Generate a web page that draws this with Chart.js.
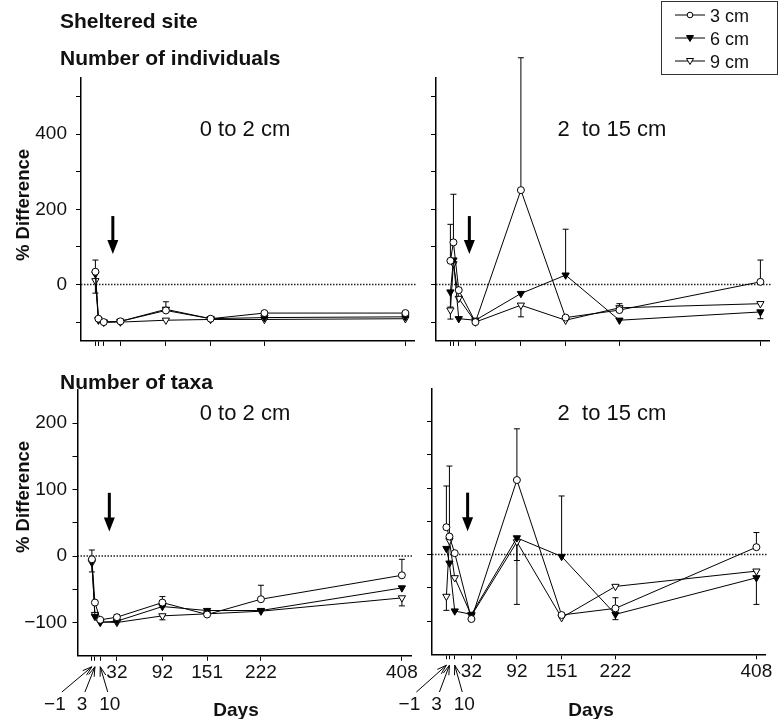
<!DOCTYPE html>
<html>
<head>
<meta charset="utf-8">
<script src="https://cdn.jsdelivr.net/npm/chart.js@4.4.1/dist/chart.umd.min.js"></script>
<style>
html,body{margin:0;padding:0;background:#fff;}
#wrap{position:relative;width:780px;height:719px;overflow:hidden;background:#fff;}
canvas{position:absolute;}
#overlay{position:absolute;left:0;top:0;pointer-events:none;}
</style>
</head>
<body>
<div id="wrap">
<canvas id="cTL"></canvas>
<canvas id="cTR"></canvas>
<canvas id="cBL"></canvas>
<canvas id="cBR"></canvas>
<svg id="overlay" width="780" height="719" xmlns="http://www.w3.org/2000/svg"></svg>
</div>
<script>
// ---------- data ----------
const days = [-1, 3, 10, 32, 92, 151, 222, 408];
const labeledDays = [32, 92, 151, 222, 408];
const arrowedDays = [-1, 3, 10];
const seriesNames = ['3 cm', '6 cm', '9 cm'];

const indTicks = [-100, 0, 100, 200, 300, 400, 500];
const indTickLabels = [0, 200, 400];
const taxaTicks = [-100, -50, 0, 50, 100, 150, 200];
const taxaTickLabels = [-100, 0, 100, 200];

// Number of individuals, 0 to 2 cm
const ind02_3cm = [34, -91, -100, -98, -69, -91, -76, -76];
const ind02_6cm = [28, -93, -100, -98, -66, -91, -88, -86];
const ind02_9cm = [10, -95, -100, -100, -95, -93, -93, -91];
const ind02_3cm_up = [31, null, null, null, null, null, null, null];
const ind02_6cm_up = [null, null, null, null, 20, null, null, null];
const ind02_9cm_dn = [33, null, null, null, null, null, null, null];

// Number of individuals, 2 to 15 cm
const ind215_3cm = [63, 112, -15, -100, 251, -88, -68, 7];
const ind215_6cm = [-20, 65, -91, -95, -24, 25, -95, -73];
const ind215_9cm = [-68, 55, -37, -100, -55, -95, -62, -51];
const ind215_3cm_up = [97, 128, null, null, 352, null, null, 58];
const ind215_6cm_up = [null, null, null, null, null, 122, null, null];
const ind215_6cm_dn = [40, null, null, null, null, null, null, 18];
const ind215_9cm_up = [null, null, null, null, null, null, 11, null];
const ind215_9cm_dn = [24, null, null, null, 31, null, null, null];

// Number of taxa, 0 to 2 cm
const tax02_3cm = [-5, -70, -96, -92, -70, -88, -65, -29];
const tax02_6cm = [-8, -91, -100, -98, -76, -82, -82, -48];
const tax02_9cm = [-10, -88, -99, -100, -90, -87, -83, -63];
const tax02_3cm_up = [14, null, null, 4, 9, null, 21, 24];
const tax02_6cm_dn = [16, null, null, null, null, null, null, null];
const tax02_9cm_dn = [null, null, null, null, 6, null, null, 12];

// Number of taxa, 2 to 15 cm
const tax215_3cm = [41, 27, 2, -97, 112, -91, -81, 11];
const tax215_6cm = [9, -13, -85, -90, 25, -3, -90, -35];
const tax215_9cm = [-63, 21, -35, -92, 19, -95, -48, -25];
const tax215_3cm_up = [62, 106, null, null, 77, null, 16, 22];
const tax215_6cm_up = [null, null, null, null, null, 91, null, null];
const tax215_6cm_dn = [null, null, null, null, 34, null, 8, 40];
const tax215_9cm_dn = [21, null, null, null, 94, null, null, null];

// ---------- styling ----------
const FONT = '"Liberation Sans", Arial, Helvetica, sans-serif';
const markerStyles = [
  {pointStyle: 'circle', rot: 0, r: 3.5, fill: '#fff'},
  {pointStyle: 'triangle', rot: 180, r: 4.2, fill: '#000'},
  {pointStyle: 'triangle', rot: 180, r: 4.2, fill: '#fff'}
];
const fmt = v => (v < 0 ? '\u2212' + Math.abs(v) : String(v));

function makeDecor(opt, g) {
  return {
    id: 'decor_' + g.id,
    beforeDatasetsDraw(chart) {
      const {ctx, chartArea: a, scales: {x, y}} = chart;
      ctx.save();
      const y0 = y.getPixelForValue(0);
      ctx.strokeStyle = '#222';
      ctx.lineWidth = 1.6;
      ctx.setLineDash([1.5, 1.5]);
      ctx.beginPath(); ctx.moveTo(a.left, y0); ctx.lineTo(a.right + 2, y0); ctx.stroke();
      ctx.setLineDash([]);
      ctx.lineWidth = 1;
      ctx.strokeStyle = '#000';
      chart.data.datasets.forEach(ds => {
        ds.data.forEach((p, j) => {
          [[ds.errUp, 1], [ds.errDn, -1]].forEach(([arr, sgn]) => {
            if (!arr || arr[j] == null) return;
            const px = x.getPixelForValue(p.x);
            const py = y.getPixelForValue(p.y);
            const pe = y.getPixelForValue(p.y + sgn * arr[j]);
            ctx.beginPath();
            ctx.moveTo(px, py); ctx.lineTo(px, pe);
            ctx.moveTo(px - 3, pe); ctx.lineTo(px + 3, pe);
            ctx.stroke();
          });
        });
      });
      ctx.restore();
    },
    afterDatasetsDraw(chart) {
      const {ctx, chartArea: a, scales: {x, y}} = chart;
      ctx.save();
      // treatment arrow
      const [d, from, to] = opt.arrow;
      const px = x.getPixelForValue(d), p1 = y.getPixelForValue(from), p2 = y.getPixelForValue(to);
      ctx.fillStyle = '#000'; ctx.strokeStyle = '#000'; ctx.lineWidth = 3;
      ctx.beginPath(); ctx.moveTo(px, p1); ctx.lineTo(px, p2 - 12); ctx.stroke();
      ctx.beginPath(); ctx.moveTo(px - 5.5, p2 - 14); ctx.lineTo(px + 5.5, p2 - 14); ctx.lineTo(px, p2); ctx.closePath(); ctx.fill();
      // day annotations with arrows
      if (opt.dayMarks) {
        const labOff = [-37, -13, 9.5];
        const startOff = [7, 3, -2];
        const baseY = 710 - g.top, startY = 692 - g.top, endY = a.bottom + 11;
        ctx.font = '19px ' + FONT;
        ctx.textAlign = 'center';
        ctx.textBaseline = 'alphabetic';
        ctx.fillStyle = '#111';
        ctx.lineWidth = 1;
        arrowedDays.forEach((dd, k) => {
          const tx = x.getPixelForValue(dd);
          const lx = tx + labOff[k];
          ctx.fillText(fmt(dd), lx, baseY);
          const sx = lx + startOff[k];
          ctx.beginPath(); ctx.moveTo(sx, startY); ctx.lineTo(tx, endY); ctx.stroke();
          const ang = Math.atan2(startY - endY, sx - tx);
          const L = 10, sp = 0.3;
          ctx.beginPath();
          ctx.moveTo(tx + L * Math.cos(ang - sp), endY + L * Math.sin(ang - sp));
          ctx.lineTo(tx, endY);
          ctx.lineTo(tx + L * Math.cos(ang + sp), endY + L * Math.sin(ang + sp));
          ctx.stroke();
        });
      }
      ctx.restore();
    }
  };
}

function makePanel(g, opt) {
  const canvas = document.getElementById(g.id);
  canvas.width = g.w; canvas.height = g.h;
  Object.assign(canvas.style, {left: g.left + 'px', top: g.top + 'px', width: g.w + 'px', height: g.h + 'px'});
  const yW = g.area.l - g.left;
  const padR = g.left + g.w - g.area.r;
  const padT = g.area.t - g.top;
  const xH = g.top + g.h - g.area.b;
  const datasets = opt.series.map((vals, i) => ({
    label: seriesNames[i],
    data: days.map((d, j) => ({x: d, y: vals[j]})),
    errUp: opt.errUp[i], errDn: opt.errDn[i],
    showLine: true, tension: 0,
    borderColor: '#000', borderWidth: 1,
    pointStyle: markerStyles[i].pointStyle,
    rotation: markerStyles[i].rot,
    pointRotation: markerStyles[i].rot,
    pointRadius: markerStyles[i].r,
    pointBackgroundColor: markerStyles[i].fill,
    pointBorderColor: '#000', pointBorderWidth: 1
  }));
  return new Chart(canvas, {
    type: 'scatter',
    data: {datasets},
    plugins: [makeDecor(opt, g)],
    options: {
      responsive: false, animation: false, devicePixelRatio: 1,
      layout: {padding: {left: 0, right: padR, top: padT, bottom: 0}},
      plugins: {legend: {display: false}, tooltip: {enabled: false}},
      scales: {
        x: {
          type: 'linear', min: -20, max: 420,
          afterBuildTicks: s => { s.ticks = days.map(v => ({value: v})); },
          afterFit: s => { s.height = xH; s.paddingLeft = 0; s.paddingRight = 0; s.paddingTop = 0; s.paddingBottom = 0; },
          border: {display: true, color: '#000', width: 1.5},
          grid: {drawOnChartArea: false, drawTicks: true, tickLength: 5, color: '#000', lineWidth: 1},
          ticks: {display: opt.xLabels, autoSkip: false, maxRotation: 0, minRotation: 0, padding: 1,
                  color: '#111', font: {family: FONT, size: 19},
                  callback: v => (labeledDays.includes(v) ? fmt(v) : '')}
        },
        y: {
          type: 'linear', min: opt.yMin, max: opt.yMax,
          afterBuildTicks: s => { s.ticks = opt.yTicks.map(v => ({value: v})); },
          afterFit: s => { s.width = yW; s.paddingLeft = 0; s.paddingRight = 0; s.paddingTop = 0; s.paddingBottom = 0; },
          border: {display: true, color: '#000', width: 1.5},
          grid: {drawOnChartArea: false, drawTicks: true, tickLength: 5, color: '#000', lineWidth: 1},
          ticks: {display: opt.yLabels, autoSkip: false, padding: opt.yPad || 5,
                  color: '#111', font: {family: FONT, size: 19},
                  callback: v => (opt.yTickLabels.includes(v) ? fmt(v) : '')}
        }
      }
    }
  });
}

const geoms = {
  TL: {id: 'cTL', left: 0, top: 0, w: 420, h: 350, area: {l: 81, r: 414.5, t: 77.7, b: 340.9}},
  TR: {id: 'cTR', left: 420, top: 0, w: 360, h: 350, area: {l: 436, r: 769.5, t: 77.7, b: 340.9}},
  BL: {id: 'cBL', left: 0, top: 370, w: 420, h: 349, area: {l: 77.5, r: 411, t: 389.75, b: 655.75}},
  BR: {id: 'cBR', left: 380, top: 370, w: 400, h: 349, area: {l: 432, r: 765.5, t: 388.25, b: 654.25}}
};

makePanel(geoms.TL, {
  series: [ind02_3cm, ind02_6cm, ind02_9cm],
  errUp: [ind02_3cm_up, ind02_6cm_up, null], errDn: [null, null, ind02_9cm_dn],
  yMin: -150, yMax: 550, yTicks: indTicks, yTickLabels: indTickLabels,
  yLabels: true, yPad: 9, xLabels: false, arrow: [22, 182, 81], dayMarks: false
});
makePanel(geoms.TR, {
  series: [ind215_3cm, ind215_6cm, ind215_9cm],
  errUp: [ind215_3cm_up, ind215_6cm_up, ind215_9cm_up], errDn: [null, ind215_6cm_dn, ind215_9cm_dn],
  yMin: -150, yMax: 550, yTicks: indTicks, yTickLabels: indTickLabels,
  yLabels: false, xLabels: false, arrow: [24, 182, 81], dayMarks: false
});
makePanel(geoms.BL, {
  series: [tax02_3cm, tax02_6cm, tax02_9cm],
  errUp: [tax02_3cm_up, null, null], errDn: [null, tax02_6cm_dn, tax02_9cm_dn],
  yMin: -150, yMax: 250, yTicks: taxaTicks, yTickLabels: taxaTickLabels,
  yLabels: true, yPad: 5.5, xLabels: true, arrow: [22, 95, 37], dayMarks: true
});
makePanel(geoms.BR, {
  series: [tax215_3cm, tax215_6cm, tax215_9cm],
  errUp: [tax215_3cm_up, tax215_6cm_up, null], errDn: [null, tax215_6cm_dn, tax215_9cm_dn],
  yMin: -150, yMax: 250, yTicks: taxaTicks, yTickLabels: taxaTickLabels,
  yLabels: false, xLabels: true, arrow: [27, 93, 35], dayMarks: true
});

// ---------- text overlay & legend ----------
const svg = document.getElementById('overlay');
const NS = 'http://www.w3.org/2000/svg';
function el(tag, attrs, text) {
  const e = document.createElementNS(NS, tag);
  for (const k in attrs) e.setAttribute(k, attrs[k]);
  if (text != null) e.textContent = text;
  svg.appendChild(e);
  return e;
}
function txt(s, x, y, size, bold, anchor, transform) {
  const a = {x, y, 'font-family': FONT, 'font-size': size, fill: '#111', 'text-anchor': anchor || 'start', style: 'white-space:pre'};
  if (bold) a['font-weight'] = 'bold';
  if (transform) a.transform = transform;
  return el('text', a, s);
}
txt('Sheltered site', 60, 28, 21, true);
txt('Number of individuals', 60, 65, 21, true);
txt('Number of taxa', 60, 389, 21, true);
txt('0 to 2 cm', 245, 136, 22, false, 'middle');
txt('2  to 15 cm', 612, 136, 22, false, 'middle');
txt('0 to 2 cm', 245, 420, 22, false, 'middle');
txt('2  to 15 cm', 612, 420, 22, false, 'middle');
txt('% Difference', 0, 0, 18.5, true, 'middle', 'translate(29,205) rotate(-90)');
txt('% Difference', 0, 0, 18.5, true, 'middle', 'translate(29,497) rotate(-90)');
txt('Days', 236, 716, 19, true, 'middle');
txt('Days', 591, 716, 19, true, 'middle');

// legend
el('rect', {x: 661.5, y: 1.5, width: 116, height: 73, fill: '#fff', stroke: '#333', 'stroke-width': 1});
const rowY = [15, 38, 61];
seriesNames.forEach((name, i) => {
  const cy = rowY[i], cx = 690;
  el('line', {x1: 675, y1: cy, x2: 705, y2: cy, stroke: '#000', 'stroke-width': 1});
  const m = markerStyles[i];
  if (m.pointStyle === 'circle') {
    el('circle', {cx, cy, r: 2.8, fill: m.fill, stroke: '#000', 'stroke-width': 1});
  } else {
    el('polygon', {points: `${cx - 3.5},${cy - 2.5} ${cx + 3.5},${cy - 2.5} ${cx},${cy + 3.5}`, fill: m.fill, stroke: '#000', 'stroke-width': 1});
  }
  txt(name, 710, cy + 7, 18, false, 'start');
});
</script>
</body>
</html>
